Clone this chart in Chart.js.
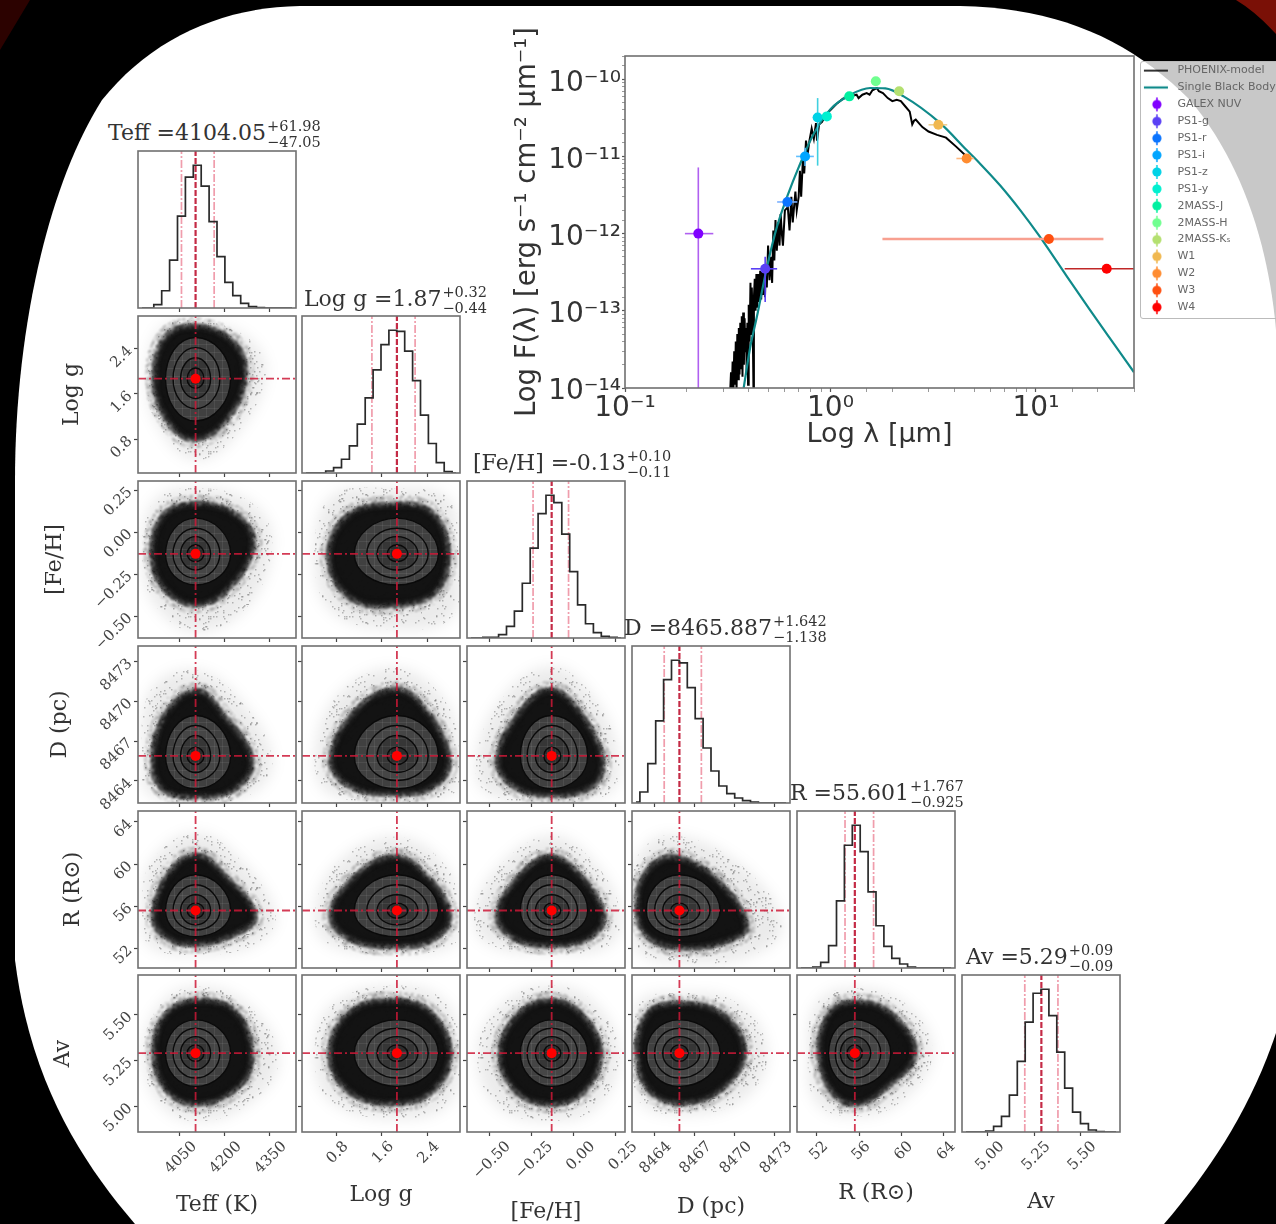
<!DOCTYPE html>
<html>
<head>
<meta charset="utf-8">
<title>SED and corner plot</title>
<script src="https://cdn.jsdelivr.net/npm/chart.js@4/dist/chart.umd.js"></script>
<style>
  html, body { margin: 0; background: #000; overflow: hidden; width: 1276px; height: 1224px; }
  #page { position: absolute; left: 0; top: 0; width: 1276px; height: 1224px; overflow: hidden; filter: blur(0.55px); }
  #bg { position: absolute; left: 0; top: 0; }
  canvas { position: absolute; }
  .ptitle { position: absolute; font-family: "DejaVu Serif"; font-size: 22px; line-height: 26px; color: #333; white-space: nowrap; }
  .ptitle .sc { position: relative; display: inline-block; width: 0; height: 0; }
  .ptitle .sc span { position: absolute; left: 1px; font-size: 14.5px; line-height: 15px; }
  #legendBox { position: absolute; left: 1140px; top: 61px; width: 150px; height: 256px; border: 1px solid #bbb; border-radius: 3px; }
</style>
</head>
<body>
<div id="page">
  <svg id="bg" width="1276" height="1224">
    <rect width="1276" height="1224" fill="#000"/>
    <path d="M0 0 L30 0 L0 50 Z" fill="#2c0200"/>
    <path d="M1236 0 L1276 0 L1276 34 Q1256 12 1236 0 Z" fill="#7a1006"/>
    <rect x="1140" y="61" width="136" height="270" fill="#c8c8c8"/>
    <path d="M135 1224 C80 1160 30 1080 15 960 L15 480 C15 340 45 190 102 100 C150 40 220 7 300 6 L960 6 C1060 8 1130 40 1190 100 C1240 160 1268 240 1276 330 L1276 1033 C1250 1110 1210 1170 1164 1224 Z" fill="#fff"/>
  </svg>
  <div id="legendBox"></div>
</div>
<script>
// corner parameters
const paramLabels = ['Teff (K)', 'Log g', '[Fe/H]', 'D (pc)', 'R (R\u2299)', 'Av'];
const titleNames = ['Teff', 'Log g', '[Fe/H]', 'D', 'R', 'Av'];
const titleValues = ['4104.05', '1.87', '-0.13', '8465.887', '55.601', '5.29'];
const titleUpper = ['+61.98', '+0.32', '+0.10', '+1.642', '+1.767', '+0.09'];
const titleLower = ['\u221247.05', '\u22120.44', '\u22120.11', '\u22121.138', '\u22120.925', '\u22120.09'];

const axisMin = [3912, 0.2, -0.631, 8462.34, 50.15, 4.859];
const axisMax = [4439, 2.98, 0.304, 8474.16, 65.04, 5.717];
const medians = [4104.05, 1.87, -0.13, 8465.887, 55.601, 5.29];
const lower16 = [4057, 1.43, -0.24, 8464.749, 54.676, 5.2];
const upper84 = [4166.03, 2.19, -0.03, 8467.529, 57.368, 5.38];

const tickValues = [
  [4050, 4200, 4350],
  [0.8, 1.6, 2.4],
  [-0.5, -0.25, 0, 0.25],
  [8464, 8467, 8470, 8473],
  [52, 56, 60, 64],
  [5, 5.25, 5.5]
];
const tickLabels = [
  ['4050', '4200', '4350'],
  ['0.8', '1.6', '2.4'],
  ['\u22120.50', '\u22120.25', '0.00', '0.25'],
  ['8464', '8467', '8470', '8473'],
  ['52', '56', '60', '64'],
  ['5.00', '5.25', '5.50']
];

// histograms, 20 bins across the axis range
const histTeff = [0, 0, 10, 52, 144, 277, 394, 430, 367, 260, 155, 77, 37, 14, 4, 1, 0, 0, 0, 0];
const histLogg = [0, 0, 0, 6, 16, 41, 81, 146, 224, 308, 383, 426, 423, 364, 276, 173, 88, 31, 4, 0];
const histFeH = [0, 0, 2, 2, 10, 35, 81, 165, 271, 375, 430, 408, 313, 200, 100, 43, 16, 5, 2, 0];
const histD = [3, 33, 118, 246, 370, 428, 420, 346, 253, 165, 96, 51, 28, 15, 7, 3, 0, 0, 0, 0];
const histR = [0, 0, 3, 17, 67, 202, 369, 429, 350, 229, 127, 65, 29, 12, 3, 0, 0, 0, 0, 0];
const histAv = [0, 0, 0, 3, 17, 47, 111, 212, 330, 417, 429, 350, 240, 132, 60, 25, 6, 1, 0, 0];
const histograms = [histTeff, histLogg, histFeH, histD, histR, histAv];

// contour extents of each parameter, inner to outer
const contourLow = [
  [4076, 4054, 4029, 4004],
  [1.70, 1.52, 1.34, 1.12],
  [-0.176, -0.226, -0.275, -0.315],
  [8465.23, 8464.64, 8464.03, 8463.4],
  [54.87, 54.24, 53.76, 53.13],
  [5.245, 5.2, 5.154, 5.108]
];
const contourHigh = [
  [4132, 4154, 4185, 4221],
  [2.06, 2.24, 2.42, 2.60],
  [-0.076, -0.027, 0.023, 0.083],
  [8466.54, 8467.42, 8468.18, 8468.93],
  [56.3, 57.09, 58.04, 58.99],
  [5.335, 5.38, 5.426, 5.472]
];

// sample cloud outlines: dark core and faint outer edge
const core_1_0 = [[4266, 1.96], [4221, 2.54], [4098, 2.78], [4004, 2.58], [3970, 1.84], [4010, 1.16], [4098, 0.81], [4210, 1.19]];
const halo_1_0 = [[4338, 1.96], [4277, 2.6], [4098, 2.9], [3981, 2.72], [3942, 1.84], [3981, 1.02], [4104, 0.43], [4243, 0.9]];
const core_2_0 = [[4293, -0.066], [4232, 0.103], [4110, 0.163], [3998, 0.094], [3963, -0.146], [4004, -0.335], [4104, -0.428], [4210, -0.335]];
const halo_2_0 = [[4360, -0.066], [4293, 0.172], [4104, 0.262], [3965, 0.182], [3926, -0.146], [3965, -0.425], [4104, -0.594], [4277, -0.444]];
const core_2_1 = [[2.75, -0.11], [2.45, 0.116], [1.83, 0.158], [1.04, 0.098], [0.69, -0.142], [1.04, -0.382], [1.83, -0.43], [2.54, -0.352]];
const halo_2_1 = [[2.95, -0.11], [2.78, 0.2], [1.83, 0.26], [0.72, 0.21], [0.42, -0.142], [0.72, -0.47], [1.83, -0.58], [2.85, -0.5]];
const core_3_0 = [[4288, 8465.54], [4188, 8469.06], [4110, 8470.69], [4009, 8469.06], [3965, 8465.54], [3998, 8463.4], [4104, 8462.9], [4227, 8463.4]];
const halo_3_0 = [[4360, 8465.54], [4254, 8470.06], [4104, 8472.33], [3954, 8470.82], [3926, 8465.54], [3948, 8463], [4104, 8462.34], [4288, 8463]];
const core_3_1 = [[2.77, 8465.5], [2.36, 8469.3], [1.83, 8470.8], [1.13, 8469.1], [0.73, 8465.5], [1.08, 8463.6], [1.83, 8463.1], [2.49, 8463.6]];
const halo_3_1 = [[2.97, 8465.5], [2.72, 8470], [1.83, 8472.5], [0.8, 8470.3], [0.42, 8465.5], [0.7, 8463], [1.83, 8462.4], [2.85, 8463]];
const core_3_2 = [[0.166, 8465.5], [0.03, 8469.1], [-0.136, 8470.8], [-0.314, 8469.1], [-0.444, 8465.5], [-0.343, 8463.6], [-0.136, 8463], [0.1, 8463.6]];
const halo_3_2 = [[0.27, 8465.5], [0.12, 8470.3], [-0.13, 8472.6], [-0.42, 8470.3], [-0.58, 8465.5], [-0.5, 8463], [-0.13, 8462.4], [0.2, 8463]];
const core_4_0 = [[4299, 55.03], [4199, 58.83], [4110, 60.73], [4020, 59.15], [3967, 55.03], [4009, 53.13], [4104, 52.5], [4221, 53.29]];
const halo_4_0 = [[4371, 55.03], [4254, 60.4], [4104, 62.95], [3954, 60.1], [3926, 55.03], [3954, 52.18], [4104, 51.39], [4299, 52.34]];
const core_4_1 = [[2.78, 55.1], [2.36, 58.9], [1.83, 60.6], [1.13, 58.65], [0.73, 55.1], [1.08, 52.9], [1.83, 52.3], [2.49, 52.9]];
const halo_4_1 = [[2.97, 55.1], [2.72, 59.9], [1.83, 62.6], [0.8, 60], [0.42, 55.1], [0.7, 52.3], [1.83, 51.5], [2.85, 52.3]];
const core_4_2 = [[0.172, 55.1], [0.03, 58.9], [-0.136, 60.6], [-0.31, 58.9], [-0.444, 55.1], [-0.343, 53], [-0.136, 52.4], [0.08, 53]];
const halo_4_2 = [[0.28, 55.1], [0.13, 60], [-0.13, 62.7], [-0.43, 60], [-0.59, 55.1], [-0.5, 52.4], [-0.13, 51.5], [0.2, 52.2]];
const core_4_3 = [[8470.86, 54.17], [8468.6, 58.46], [8465.36, 60.56], [8463.33, 58.94], [8462.8, 55.6], [8463.56, 53.2], [8465.96, 52.17], [8469.35, 52.74]];
const halo_4_3 = [[8473.6, 54.17], [8470.5, 59.9], [8465.2, 62.75], [8462.6, 60.4], [8462.35, 55.6], [8462.65, 51.8], [8466.3, 50.6], [8471.2, 51.3]];
const core_5_0 = [[4288, 5.254], [4237, 5.508], [4107, 5.572], [4004, 5.49], [3970, 5.29], [4011, 5.09], [4107, 5.017], [4230, 5.09]];
const halo_5_0 = [[4381, 5.254], [4285, 5.545], [4120, 5.654], [3990, 5.563], [3928, 5.29], [3983, 5.017], [4107, 4.917], [4285, 5.017]];
const core_5_1 = [[2.79, 5.29], [2.45, 5.508], [1.87, 5.572], [1.09, 5.517], [0.71, 5.29], [1.05, 5.081], [1.87, 5.021], [2.49, 5.09]];
const halo_5_1 = [[2.97, 5.29], [2.75, 5.56], [1.9, 5.66], [0.75, 5.56], [0.42, 5.29], [0.7, 5.03], [1.87, 4.93], [2.8, 5.02]];
const core_5_2 = [[0.155, 5.28], [0.05, 5.49], [-0.13, 5.572], [-0.32, 5.5], [-0.43, 5.29], [-0.33, 5.08], [-0.13, 5.017], [0.05, 5.08]];
const halo_5_2 = [[0.27, 5.28], [0.13, 5.56], [-0.13, 5.66], [-0.42, 5.56], [-0.57, 5.29], [-0.45, 5], [-0.13, 4.92], [0.14, 5]];
const core_5_3 = [[8470.66, 5.29], [8469.02, 5.5], [8465.58, 5.554], [8463.54, 5.5], [8462.8, 5.29], [8463.7, 5.09], [8465.89, 5.022], [8468.87, 5.09]];
const halo_5_3 = [[8472.47, 5.29], [8470.28, 5.563], [8465.58, 5.618], [8462.75, 5.563], [8462.38, 5.29], [8462.75, 5.035], [8465.89, 4.953], [8470.59, 5.035]];
const core_5_4 = [[61.14, 5.29], [58.77, 5.508], [55.4, 5.563], [53.22, 5.5], [52.35, 5.29], [53.42, 5.09], [55.6, 5.017], [58.37, 5.1]];
const halo_5_4 = [[62.93, 5.29], [60.35, 5.563], [55.4, 5.645], [52.04, 5.563], [51.17, 5.29], [52.04, 5.017], [55.6, 4.944], [59.96, 5.026]];
const outlines = {
  '1,0': [core_1_0, halo_1_0], '2,0': [core_2_0, halo_2_0], '2,1': [core_2_1, halo_2_1],
  '3,0': [core_3_0, halo_3_0], '3,1': [core_3_1, halo_3_1], '3,2': [core_3_2, halo_3_2],
  '4,0': [core_4_0, halo_4_0], '4,1': [core_4_1, halo_4_1], '4,2': [core_4_2, halo_4_2], '4,3': [core_4_3, halo_4_3],
  '5,0': [core_5_0, halo_5_0], '5,1': [core_5_1, halo_5_1], '5,2': [core_5_2, halo_5_2], '5,3': [core_5_3, halo_5_3], '5,4': [core_5_4, halo_5_4]
};

// SED
const filterNames = ['GALEX NUV', 'PS1-g', 'PS1-r', 'PS1-i', 'PS1-z', 'PS1-y', '2MASS-J', '2MASS-H', '2MASS-K\u209b', 'W1', 'W2', 'W3', 'W4'];
const filterColors = ['#8000ff', '#5a40f5', '#0a74ff', '#00a5ff', '#00d2e6', '#00f0d0', '#00f0a0', '#70ff90', '#b4e070', '#f0b850', '#ff8c30', '#ff5010', '#ff0000'];
const filterBarColors = ['#b060f0', '#5a40f5', '#7ab0ff', '#60c0ff', '#40d0e0', '#60f0d8', '#60f0c0', '#a0ffb8', '#d0e8a0', '#f0d090', '#ffb880', '#f8a090', '#c02828'];
const filterWave = [0.2274, 0.481, 0.617, 0.752, 0.866, 0.96, 1.235, 1.662, 2.159, 3.35, 4.6, 11.56, 22.09];
const filterFlux = [1e-12, 3.5e-13, 2.57e-12, 1e-11, 3.2e-11, 3.3e-11, 6e-11, 9.4e-11, 7e-11, 2.57e-11, 9.4e-12, 8.5e-13, 3.5e-13];
const filterWaveLow = [0.1957, 0.41, 0.55, 0.68, 0.82, 0.93, 1.16, 1.58, 2.05, 3.0, 4.1, 1.79, 13.8];
const filterWaveHigh = [0.269, 0.55, 0.69, 0.83, 0.92, 1.0, 1.31, 1.75, 2.27, 3.7, 5.0, 21.3, 30];
const filterFluxLow = [1e-14, 1.3e-13, 2.2e-12, 7.5e-12, 7.6e-12, 3e-11, 5.6e-11, 9e-11, 6.6e-11, 2.4e-11, 8.8e-12, 8.2e-13, 3.3e-13];
const filterFluxHigh = [7.2e-12, 5e-13, 3e-12, 1.3e-11, 5.7e-11, 3.6e-11, 6.4e-11, 9.8e-11, 7.4e-11, 2.8e-11, 1e-11, 8.8e-13, 3.7e-13];

const bodyWave = [0.378, 0.407, 0.438, 0.491, 0.55, 0.618, 0.70, 0.828, 1.0, 1.25, 1.56, 1.85, 2.27, 3.42, 4.61, 5.36, 6.7, 8.4, 10.3, 14, 18.2, 24, 30];
const bodyFlux = [1e-14, 3.4e-14, 8.3e-14, 3.7e-13, 1.25e-12, 3.1e-12, 7.2e-12, 1.95e-11, 4.1e-11, 6.3e-11, 7.7e-11, 7.6e-11, 6e-11, 2.7e-11, 1.2e-11, 8e-12, 4.2e-12, 2e-12, 9.6e-13, 2.9e-13, 1.05e-13, 3.7e-14, 1.6e-14];

const modelWave = [
  0.325, 0.328, 0.331, 0.334, 0.337, 0.34, 0.343, 0.346, 0.349, 0.352, 0.355, 0.358, 0.361, 0.364, 0.367, 0.37, 0.373, 0.376, 0.379, 0.382,
  0.385, 0.388, 0.391, 0.394, 0.397, 0.4, 0.404, 0.408, 0.411, 0.414, 0.418, 0.422, 0.424, 0.428, 0.432, 0.436, 0.44, 0.445, 0.45, 0.455,
  0.46, 0.465, 0.47, 0.475, 0.48, 0.485, 0.49, 0.497, 0.505, 0.514, 0.52, 0.527, 0.533, 0.54, 0.548, 0.556, 0.565, 0.572, 0.58, 0.587,
  0.6, 0.62, 0.632, 0.645, 0.655, 0.675, 0.685, 0.7, 0.71, 0.72, 0.735, 0.745, 0.76, 0.775, 0.79, 0.81, 0.83, 0.85, 0.86, 0.88,
  0.91, 0.95, 1.0, 1.08, 1.15, 1.25, 1.34, 1.37, 1.43, 1.5, 1.55, 1.6, 1.68, 1.72, 1.8, 1.9, 2.0, 2.1, 2.2, 2.32,
  2.43, 2.5, 2.55, 2.6, 2.8, 3.0, 3.3, 3.65, 4.1, 4.6
];
const modelFlux = [
  0.9e-14, 1.6e-14, 0.9e-14, 2.2e-14, 0.9e-14, 3e-14, 1.1e-14, 4e-14, 0.9e-14, 5e-14, 1.3e-14, 6e-14, 1.5e-14, 7e-14, 1.8e-14, 8.5e-14, 1.4e-14, 9.5e-14, 2e-14, 8e-14,
  3e-14, 6e-14, 1.5e-14, 7e-14, 1.1e-14, 1.2e-13, 4e-14, 2.3e-13, 5e-14, 2e-13, 8e-14, 0.9e-14, 1.5e-13, 2.6e-13, 1e-13, 3e-13, 1.1e-13, 3e-13, 1.3e-13, 3.3e-13,
  1.4e-13, 3.2e-13, 1.6e-13, 3.8e-13, 1.5e-13, 4e-13, 2e-13, 7e-13, 2.5e-13, 5e-13, 2.3e-13, 1.1e-12, 4.5e-13, 1.5e-12, 6e-13, 1.4e-12, 7e-13, 1.8e-12, 1e-12, 7e-13,
  2e-12, 2.2e-12, 1.1e-12, 3e-12, 1.4e-12, 3.5e-12, 2e-12, 3e-12, 6.5e-12, 3e-12, 1e-11, 6e-12, 1.6e-11, 1.1e-11, 1.6e-11, 2.3e-11, 1.7e-11, 2.7e-11, 1.6e-11, 2.6e-11,
  2.8e-11, 3.5e-11, 4e-11, 4.9e-11, 5.6e-11, 6e-11, 6.3e-11, 5.7e-11, 6.3e-11, 6.6e-11, 6.3e-11, 7.2e-11, 7.7e-11, 7e-11, 6.6e-11, 5.7e-11, 5.2e-11, 5.4e-11, 5.2e-11, 4.4e-11,
  3.8e-11, 2.6e-11, 2.9e-11, 3e-11, 2.4e-11, 2.1e-11, 1.9e-11, 1.75e-11, 1.33e-11, 1e-11
];
const sedXTicks = ['10\u207b\u00b9', '10\u2070', '10\u00b9'];
const sedYTicks = ['10\u207b\u00b9\u2074', '10\u207b\u00b9\u00b3', '10\u207b\u00b9\u00b2', '10\u207b\u00b9\u00b9', '10\u207b\u00b9\u2070'];

// layout of the panels on the page
const colX = [138, 302, 467, 632, 797, 962];
const rowY = [151, 316, 481, 646, 811, 975];
const panelW = 158, panelH = 157;
const xLabelOffset = [15, 10, 19, 15, 9, 14];
const xTitleCenter = [1205, 1195, 1212, 1207, 1193, 1202];
const yTitleCenter = [0, 72, 55, 60, 73, 63];
const titlePos = [[108, 141], [304, 307], [473, 471], [624, 636], [790, 801], [966, 965]];

const serif = 'DejaVu Serif';
const sans = 'DejaVu Sans';
const page = document.getElementById('page');

// blur for the sample clouds, has to run before the Filler plugin
const cloudBlur = {
  id: 'cloudBlur',
  beforeDatasetDraw(chart, args) {
    const b = chart.data.datasets[args.index].blur;
    if (b) {
      chart.ctx.save();
      chart.ctx.filter = 'blur(' + b + 'px)';
    }
  },
  afterDatasetDraw(chart, args) {
    if (chart.data.datasets[args.index].blur) chart.ctx.restore();
  }
};
Chart.unregister(Chart.Filler);
Chart.register(cloudBlur, Chart.Filler);

const panelFrame = {
  id: 'panelFrame',
  afterDatasetsDraw(chart) {
    const a = chart.chartArea, ctx = chart.ctx;
    ctx.save();
    ctx.strokeStyle = '#707070';
    ctx.lineWidth = 1.6;
    ctx.strokeRect(a.left, a.top, a.right - a.left, a.bottom - a.top);
    ctx.restore();
  }
};

// fill textures: fine dots for the thin edge of the clouds, bin hatching for the contours
function speckle(density, alpha, seed) {
  const t = document.createElement('canvas');
  t.width = t.height = 128;
  const g = t.getContext('2d');
  g.fillStyle = 'rgba(0,0,0,' + alpha + ')';
  for (let y = 0; y < 128; y++) {
    for (let x = 0; x < 128; x++) {
      const h = Math.sin(x * 12.9898 + y * 78.233 + seed) * 43758.5453;
      if (h - Math.floor(h) < density) g.fillRect(x, y, 1.5, 1.5);
    }
  }
  return g.createPattern(t, 'repeat');
}

function hatch(base) {
  const t = document.createElement('canvas');
  t.width = t.height = 8;
  const g = t.getContext('2d');
  g.fillStyle = base;
  g.fillRect(0, 0, 8, 8);
  g.fillStyle = 'rgba(255,255,255,0.07)';
  g.fillRect(0, 0, 8, 1);
  g.fillRect(0, 0, 1, 8);
  return g.createPattern(t, 'repeat');
}

const sparseDots = speckle(0.04, 0.25, 1.3);
const midDots = speckle(0.2, 0.3, 2.9);
const denseDots = speckle(0.5, 0.55, 4.7);
const ringFills = [hatch('#2c2c2c'), hatch('#363636'), hatch('#464646'), hatch('#404040')];

function addCanvas(left, top, w, h) {
  const c = document.createElement('canvas');
  c.style.left = left + 'px';
  c.style.top = top + 'px';
  c.style.width = w + 'px';
  c.style.height = h + 'px';
  c.width = w;
  c.height = h;
  page.appendChild(c);
  return c;
}

function toPoints(pts) {
  return pts.map(p => ({ x: p[0], y: p[1] }));
}

// outlines have to close into a smooth loop, same flags the radar controller uses
function closeLoops(chart) {
  let any = false;
  chart.data.datasets.forEach((d, k) => {
    if (d.loop) {
      const line = chart.getDatasetMeta(k).dataset;
      line._loop = true;
      line._fullLoop = true;
      any = true;
    }
  });
  if (any) chart.update();
}

function vLine(v, top, color, width, dash) {
  return { data: [{ x: v, y: 0 }, { x: v, y: top }], showLine: true, pointRadius: 0, borderColor: color, borderWidth: width, borderDash: dash };
}

function histDatasets(j) {
  const h = histograms[j];
  const step = (axisMax[j] - axisMin[j]) / h.length;
  const top = Math.max(...h) * 1.1;
  const pale = 'rgba(225,60,90,0.5)';
  return [
    { data: h.map((v, k) => ({ x: axisMin[j] + step * (k + 0.5), y: v })), showLine: true, stepped: 'middle', pointRadius: 0, borderColor: '#2a2a2a', borderWidth: 1.7 },
    vLine(lower16[j], top, pale, 1.7, [8, 2, 2, 2]),
    vLine(upper84[j], top, pale, 1.7, [8, 2, 2, 2]),
    vLine(medians[j], top, 'rgba(190,20,50,0.9)', 2.2, [6, 2])
  ];
}

function cloudDatasets(i, j) {
  const pair = outlines[i + ',' + j];
  const list = [];
  const shape = { showLine: true, loop: true, fill: 'shape', pointRadius: 0, tension: 0.4 };
  const edge = { showLine: true, loop: true, fill: false, pointRadius: 0, tension: 0.4, blur: 0.8, backgroundColor: 'transparent' };
  list.push({ ...shape, data: toPoints(pair[1]), blur: 7, borderWidth: 0, backgroundColor: 'rgba(0,0,0,0.08)' });
  list.push({ ...shape, data: toPoints(pair[1]), blur: 0.6, borderWidth: 0, backgroundColor: sparseDots });
  list.push({ ...edge, data: toPoints(pair[0]), borderWidth: 20, borderColor: midDots });
  list.push({ ...edge, data: toPoints(pair[0]), borderWidth: 8, borderColor: denseDots });
  list.push({ ...shape, data: toPoints(pair[0]), blur: 2, borderWidth: 2, borderColor: 'rgba(12,12,12,0.6)', backgroundColor: 'rgba(14,14,14,0.98)' });
  for (let k = 3; k >= 0; k--) {
    const ring = [
      [contourHigh[j][k], medians[i]], [medians[j], contourHigh[i][k]],
      [contourLow[j][k], medians[i]], [medians[j], contourLow[i][k]]
    ];
    list.push({ ...shape, data: toPoints(ring), tension: 0.55, borderWidth: 1.4, borderColor: '#0a0a0a', backgroundColor: ringFills[k] });
  }
  const red = 'rgba(205,25,55,0.85)';
  const dash = [8, 3, 2, 3];
  list.push({ data: [{ x: medians[j], y: axisMin[i] }, { x: medians[j], y: axisMax[i] }], showLine: true, pointRadius: 0, borderColor: red, borderWidth: 1.8, borderDash: dash });
  list.push({ data: [{ x: axisMin[j], y: medians[i] }, { x: axisMax[j], y: medians[i] }], showLine: true, pointRadius: 0, borderColor: red, borderWidth: 1.8, borderDash: dash });
  list.push({ data: [{ x: medians[j], y: medians[i] }], pointRadius: 5, pointBackgroundColor: '#f00', pointBorderWidth: 0 });
  return list.reverse(); // first dataset is drawn on top
}

function makePanel(i, j) {
  const isHist = i === j;
  const px = colX[j], py = rowY[i];
  const left = j === 0 ? 30 : px - 8;
  const top = py - 4;
  const bottom = i === 5 ? 1224 : py + panelH + 8;
  const rightPad = i === 5 ? 26 : 3; // room for the last rotated tick label
  const w = px + panelW + rightPad - left;
  const h = bottom - top;
  const c = addCanvas(left, top, w, h);
  const leftBox = px - left;
  const bottomBox = bottom - (py + panelH);
  const yTop = isHist ? Math.max(...histograms[j]) * 1.1 : axisMax[i];

  const chart = new Chart(c, {
    type: 'scatter',
    data: { datasets: isHist ? histDatasets(j) : cloudDatasets(i, j) },
    plugins: [panelFrame],
    options: {
      responsive: false,
      animation: false,
      events: [],
      layout: { autoPadding: false, padding: { top: 4, right: rightPad } },
      plugins: { legend: { display: false }, tooltip: { enabled: false } },
      scales: {
        x: {
          type: 'linear',
          min: axisMin[j],
          max: axisMax[j],
          afterBuildTicks: s => { s.ticks = tickValues[j].map(v => ({ value: v })); },
          afterFit: s => {
            s.height = bottomBox;
            s.paddingLeft = s.paddingRight = s.paddingTop = s.paddingBottom = 0;
          },
          grid: { drawOnChartArea: false, tickLength: 4, tickColor: '#444', tickWidth: 1.2 },
          border: { display: false },
          ticks: {
            display: i === 5,
            autoSkip: false,
            minRotation: 45,
            maxRotation: 45,
            padding: 2,
            labelOffset: xLabelOffset[j],
            color: '#444',
            font: { family: serif, size: 15 },
            callback: (v, k) => tickLabels[j][k]
          },
          title: {
            display: i === 5,
            text: paramLabels[j],
            color: '#333',
            font: { family: serif, size: 22 },
            padding: { top: 0, bottom: 1224 - xTitleCenter[j] - 13.2 }
          }
        },
        y: {
          type: 'linear',
          min: isHist ? 0 : axisMin[i],
          max: yTop,
          afterBuildTicks: s => { s.ticks = isHist ? [] : tickValues[i].map(v => ({ value: v })); },
          afterFit: s => {
            s.width = leftBox;
            s.paddingLeft = s.paddingRight = s.paddingTop = s.paddingBottom = 0;
          },
          grid: { drawOnChartArea: false, tickLength: 4, tickColor: '#444', tickWidth: 1.2 },
          border: { display: false },
          ticks: {
            display: j === 0 && !isHist,
            autoSkip: false,
            minRotation: 45,
            maxRotation: 45,
            padding: 4,
            color: '#444',
            font: { family: serif, size: 15 },
            callback: (v, k) => tickLabels[i][k]
          },
          title: {
            display: j === 0 && !isHist,
            text: paramLabels[i],
            color: '#333',
            font: { family: serif, size: 22 },
            padding: { top: yTitleCenter[i] - 30 - 13.2, bottom: 0 }
          }
        }
      }
    }
  });
  closeLoops(chart);
}

for (let i = 0; i < 6; i++) {
  for (let j = 0; j <= i; j++) makePanel(i, j);
}

// value titles above the histograms
titleNames.forEach((name, j) => {
  const d = document.createElement('div');
  d.className = 'ptitle';
  d.style.left = titlePos[j][0] + 'px';
  d.style.top = (titlePos[j][1] - 21) + 'px';
  const main = document.createElement('span');
  main.textContent = name + ' =' + titleValues[j];
  const sc = document.createElement('span');
  sc.className = 'sc';
  const up = document.createElement('span');
  up.textContent = titleUpper[j];
  up.style.top = '-21px';
  const low = document.createElement('span');
  low.textContent = titleLower[j];
  low.style.top = '-5px';
  sc.appendChild(up);
  sc.appendChild(low);
  d.appendChild(main);
  d.appendChild(sc);
  page.appendChild(d);
});

// legend samples
function legendMark(color, isLine) {
  const m = document.createElement('canvas');
  m.width = 34;
  m.height = 16;
  const g = m.getContext('2d');
  g.strokeStyle = color;
  g.fillStyle = color;
  if (isLine) {
    g.lineWidth = isLine;
    g.beginPath();
    g.moveTo(5, 8);
    g.lineTo(29, 8);
    g.stroke();
  } else {
    g.lineWidth = 1.5;
    g.beginPath();
    g.moveTo(18, 1);
    g.lineTo(18, 15);
    g.stroke();
    g.beginPath();
    g.arc(18, 8, 4.6, 0, Math.PI * 2);
    g.fill();
  }
  return m;
}

function sedDatasets() {
  const list = [];
  list.push({ data: modelWave.map((w, k) => ({ x: w, y: modelFlux[k] })), showLine: true, pointRadius: 0, borderColor: '#000', borderWidth: 2 });
  list.push({ data: bodyWave.map((w, k) => ({ x: w, y: bodyFlux[k] })), showLine: true, cubicInterpolationMode: 'monotone', pointRadius: 0, borderColor: '#0f8a8a', borderWidth: 2.2 });
  filterNames.forEach((name, k) => {
    const width = k === 11 ? 2.4 : 1.6;
    list.push({ data: [{ x: filterWaveLow[k], y: filterFlux[k] }, { x: filterWaveHigh[k], y: filterFlux[k] }], showLine: true, pointRadius: 0, borderColor: filterBarColors[k], borderWidth: width });
    list.push({ data: [{ x: filterWave[k], y: filterFluxLow[k] }, { x: filterWave[k], y: filterFluxHigh[k] }], showLine: true, pointRadius: 0, borderColor: filterBarColors[k], borderWidth: width });
    list.push({ data: [{ x: filterWave[k], y: filterFlux[k] }], pointRadius: 5, pointBackgroundColor: filterColors[k], pointBorderWidth: 0 });
  });
  return list.reverse();
}

function isPower(v) {
  const e = Math.log10(v);
  return Math.abs(e - Math.round(e)) < 1e-6;
}

const sedTop = 20, sedLeft = 490, sedPlotRight = 1134;
const sedCanvas = addCanvas(sedLeft, sedTop, 810, 440);
const sedChart = new Chart(sedCanvas, {
  type: 'scatter',
  data: { datasets: sedDatasets() },
  plugins: [panelFrame],
  options: {
    responsive: false,
    animation: false,
    events: [],
    layout: { padding: { top: 36, right: 0 } },
    plugins: {
      tooltip: { enabled: false },
      legend: {
        position: 'right',
        align: 'start',
        title: { display: true, text: ' ', font: { size: 1 }, padding: 1 },
        labels: {
          usePointStyle: true,
          pointStyleWidth: 32,
          padding: 5.9,
          color: '#444',
          font: { family: sans, size: 11 },
          generateLabels: () => [
            { text: 'PHOENIX-model', pointStyle: legendMark('#000', 1.6), lineWidth: 0 },
            { text: 'Single Black Body', pointStyle: legendMark('#0f8a8a', 2.2), lineWidth: 0 }
          ].concat(filterNames.map((n, k) => ({ text: n, pointStyle: legendMark(filterColors[k]), lineWidth: 0 })))
        }
      }
    },
    scales: {
      x: {
        type: 'logarithmic',
        min: 0.1,
        max: 30,
        afterFit: s => {
          s.height = 72;
          s.paddingLeft = s.paddingRight = s.paddingTop = s.paddingBottom = 0;
        },
        grid: { drawOnChartArea: false, tickLength: 4, tickColor: '#555', tickWidth: c => (isPower(c.tick.value) ? 1.2 : 0.6) },
        border: { display: false },
        ticks: {
          autoSkip: false,
          maxRotation: 0,
          padding: 0,
          color: '#333',
          font: { family: sans, size: 28 },
          callback: v => (isPower(v) ? sedXTicks[Math.round(Math.log10(v)) + 1] : '')
        },
        title: { display: true, text: 'Log \u03bb [\u03bcm]', color: '#333', font: { family: sans, size: 27 }, padding: { top: 0, bottom: 9 } }
      },
      y: {
        type: 'logarithmic',
        min: 1e-14,
        max: 2e-10,
        afterFit: s => {
          s.width = 135;
          s.paddingLeft = s.paddingRight = s.paddingTop = s.paddingBottom = 0;
        },
        grid: { drawOnChartArea: false, tickLength: 3, tickColor: '#555', tickWidth: c => (isPower(c.tick.value) ? 1.2 : 0.6) },
        border: { display: false },
        ticks: {
          autoSkip: false,
          padding: 1,
          labelOffset: 4,
          color: '#333',
          font: { family: sans, size: 28 },
          callback: v => (isPower(v) ? sedYTicks[Math.round(Math.log10(v)) + 14] : '')
        },
        title: { display: true, text: 'Log F(\u03bb) [erg s\u207b\u00b9 cm\u207b\u00b2 \u03bcm\u207b\u00b9]', color: '#333', font: { family: sans, size: 27.5 }, padding: { top: 21, bottom: 0 } }
      }
    }
  }
});
// put the right edge of the plot where it belongs, the legend sits next to it
sedChart.options.layout.padding.right = (sedLeft + sedChart.chartArea.right) - sedPlotRight;
sedChart.update();
</script>
</body>
</html>
